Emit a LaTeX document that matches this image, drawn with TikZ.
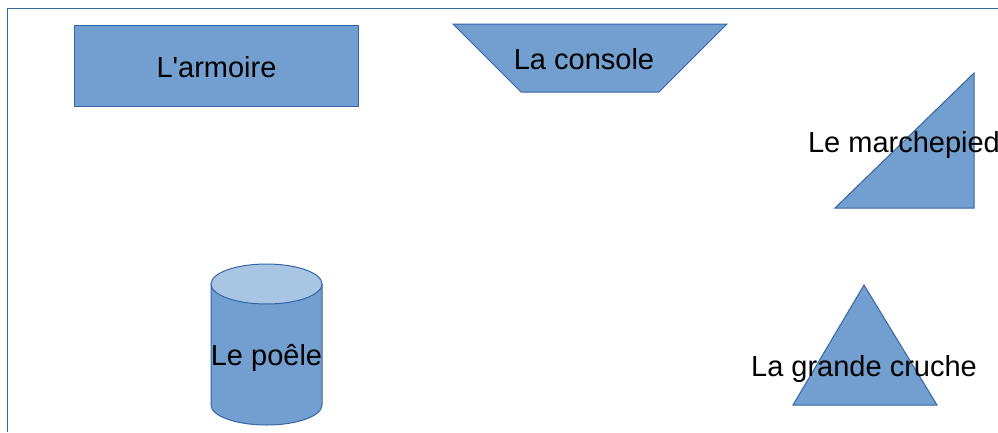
\documentclass[tikz,border=0pt]{standalone}
\usepackage{fontspec}
\setmainfont{Liberation Sans}[Ligatures=TeXOff]
\usepackage{xcolor}
\definecolor{shapefill}{HTML}{729FCF}
\definecolor{shapeline}{HTML}{3465A4}
\definecolor{capfill}{HTML}{A8C5E4}
\usetikzlibrary{positioning}
\tikzset{
		>=stealth
	}

\begin{document}
\begin{tikzpicture}[x=1pt, y=-1pt,
				furniture/.style={draw=shapeline, fill=shapefill, line width=1pt, line join=miter},
				lid/.style={draw=shapeline, fill=capfill, line width=1pt},
				caption/.style={anchor=base, inner sep=0pt, font=\fontsize{29}{34}\selectfont},
				frame/.style={draw=shapeline, line width=1.5pt}]
	\useasboundingbox (0,0) rectangle (998,432);
	% frame
	\draw[frame] (7.5,432) -- (7.5,8.5) -- (998,8.5);
	% l'armoire
	\draw[furniture] (74,25) rectangle (358,106);
	\node[caption] (armoire) at (216.5,77) {L'armoire};
	% la console
	\draw[furniture] (453,24) -- (727,24) -- (659,92) -- (521,92) -- cycle;
	\node[caption] (console) at (584,69) {La console};
	% le marchepied
	\draw[furniture] (974,73) -- (974,208) -- (835,208) -- cycle;
	\node[caption] (marchepied) at (904,152) {Le marchepied};
	% le poele
	\draw[furniture] (211,284) -- (211,405) arc[start angle=180, end angle=360, x radius=55.5, y radius=-20] -- (322,284) -- cycle;
	\draw[lid] (266.5,284) ellipse[x radius=55.5, y radius=20];
	\node[caption] (poele) at (266.5,365) {Le poêle};
	% la grande cruche
	\draw[furniture] (864,285) -- (937,405) -- (793,405) -- cycle;
	\node[caption] (cruche) at (864,376) {La grande cruche};
\end{tikzpicture}
\end{document}
